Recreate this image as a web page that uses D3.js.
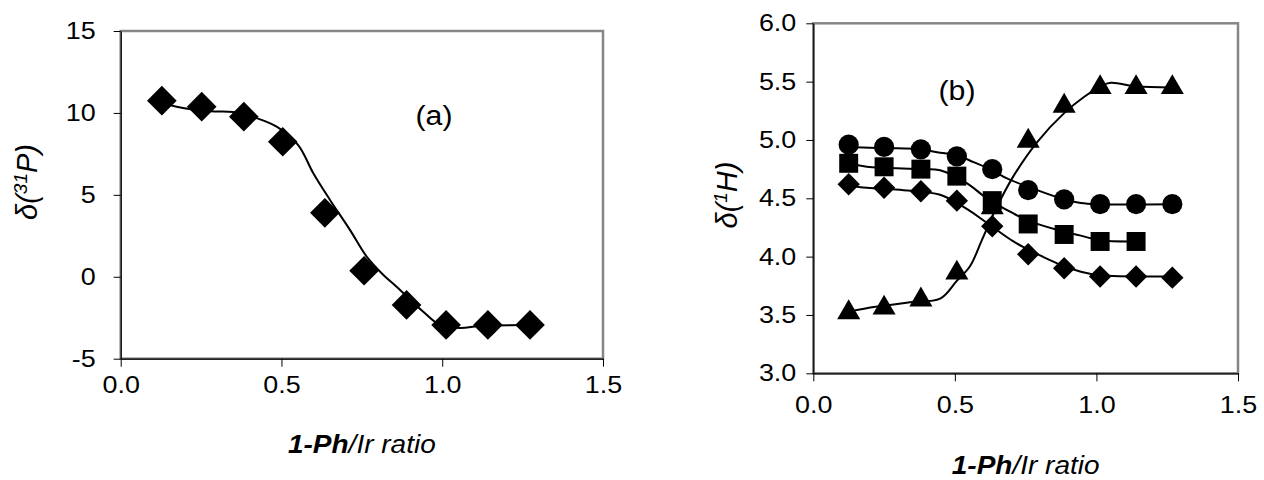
<!DOCTYPE html>
<html lang="en">
<head>
<meta charset="utf-8" />
<title>Chemical shift vs 1-Ph/Ir ratio</title>
<script src="https://d3js.org/d3.v7.min.js"></script>
<style>
  body{margin:0;background:#fff;}
  svg{display:block;font-family:"Liberation Sans",Arial,sans-serif;}
  .tick line{stroke:#000;stroke-width:1;}
  .tick text{fill:#000;}
</style>
</head>
<body>
<svg id="chart" width="1264" height="480"></svg>
<script>
// ---------- panel (a): 31P shift ----------
const X_A = [0.128, 0.252, 0.383, 0.504, 0.635, 0.757, 0.889, 1.012, 1.142, 1.273];
const P31 = [10.75, 10.38, 9.77, 8.24, 3.9, 0.37, -1.72, -2.94, -2.94, -2.94];
// fitted curve
const FIT_A_X = [0.128, 0.174, 0.28, 0.35, 0.42, 0.485, 0.552, 0.599, 0.651, 0.713, 0.765, 0.817, 0.858, 0.941, 0.993, 1.055, 1.12, 1.273];
const FIT_A_Y = [10.62, 10.38, 10.1, 10.05, 9.7, 9.16, 8.04, 6.32, 4.69, 2.86, 1.23, 0.11, -0.61, -2.13, -2.94, -3.12, -3.0, -2.95];
const Y_TICKS_A = [-5, 0, 5, 10, 15];

// ---------- panel (b): 1H shifts ----------
const X_B = [0.125, 0.25, 0.38, 0.507, 0.632, 0.759, 0.886, 1.013, 1.14, 1.268];
const CIRCLES  = [4.96, 4.94, 4.92, 4.86, 4.75, 4.57, 4.49, 4.45, 4.45, 4.45];
const SQUARES  = [4.80, 4.77, 4.75, 4.69, 4.48, 4.28, 4.19, 4.13, 4.13];
const DIAMONDS = [4.62, 4.59, 4.56, 4.48, 4.26, 4.02, 3.90, 3.83, 3.83, 3.82];
const TRIANGLES = [3.52, 3.56, 3.63, 3.86, 4.42, 4.99, 5.29, 5.45, 5.45, 5.45];

const FIT_CIRC_X = [0.125, 0.25, 0.38, 0.448, 0.507, 0.566, 0.632, 0.684, 0.768, 0.874, 0.945, 1.013, 1.268];
const FIT_CIRC_Y = [4.94, 4.93, 4.92, 4.89, 4.87, 4.81, 4.74, 4.67, 4.59, 4.50, 4.46, 4.45, 4.45];
const FIT_SQ_X = [0.125, 0.189, 0.38, 0.448, 0.542, 0.613, 0.707, 0.768, 0.861, 0.945, 1.013, 1.14];
const FIT_SQ_Y = [4.80, 4.77, 4.75, 4.74, 4.63, 4.50, 4.37, 4.30, 4.23, 4.18, 4.14, 4.13];
const FIT_DIA_X = [0.125, 0.189, 0.319, 0.448, 0.542, 0.613, 0.707, 0.76, 0.81, 0.874, 0.945, 1.013, 1.268];
const FIT_DIA_Y = [4.61, 4.59, 4.57, 4.53, 4.41, 4.29, 4.13, 4.06, 4.00, 3.93, 3.87, 3.84, 3.83];
const FIT_TRI_X = [0.125, 0.22, 0.342, 0.448, 0.506, 0.554, 0.595, 0.643, 0.707, 0.79, 0.886, 0.957, 1.015, 1.05, 1.14, 1.268];
const FIT_TRI_Y = [3.53, 3.57, 3.61, 3.64, 3.79, 3.92, 4.14, 4.40, 4.69, 4.98, 5.23, 5.37, 5.46, 5.49, 5.46, 5.45];
const Y_TICKS_B = [3.0, 3.5, 4.0, 4.5, 5.0, 5.5, 6.0];

const X_TICKS = [0, 0.5, 1.0, 1.5];
const STRETCH = 1.12;   // text in the source is drawn a little wide

const svg = d3.select('#chart');

// widen text horizontally like the original
function stretch(sel){
  sel.each(function(){
    const w = this.getComputedTextLength();
    d3.select(this).attr('textLength', w * STRETCH).attr('lengthAdjust', 'spacingAndGlyphs');
  });
}

function panel(o){
  const x = d3.scaleLinear().domain([0, 1.5]).range([o.left, o.right]);
  const y = d3.scaleLinear().domain(o.yDomain).range([o.bottom, o.top]);
  const g = svg.append('g');

  // plot area frame
  g.append('rect')
    .attr('x', o.left).attr('y', o.top)
    .attr('width', o.right - o.left).attr('height', o.bottom - o.top)
    .attr('fill', 'none').attr('stroke', '#868686').attr('stroke-width', 2.5);

  const xa = g.append('g').attr('transform', `translate(0,${o.bottom})`)
    .call(d3.axisBottom(x).tickValues(X_TICKS).tickFormat(d3.format('.1f'))
      .tickSizeInner(8).tickSizeOuter(0).tickPadding(o.xPad));
  const ya = g.append('g').attr('transform', `translate(${o.left},0)`)
    .call(d3.axisLeft(y).tickValues(o.yTicks).tickFormat(o.yFormat)
      .tickSizeInner(7).tickSizeOuter(0).tickPadding(o.yPad));
  [xa, ya].forEach(a => {
    a.select('.domain').attr('stroke', '#000').attr('stroke-width', 1.2);
    a.selectAll('text').attr('font-size', o.tickFont).attr('font-family', '"Liberation Sans",Arial,sans-serif');
  });
  xa.selectAll('text').call(stretch);
  ya.selectAll('text').call(stretch);

  // x title
  const xt = g.append('text')
    .attr('x', (o.left + o.right) / 2).attr('y', o.xTitleY)
    .attr('text-anchor', 'middle').attr('font-size', 25).attr('font-style', 'italic');
  xt.append('tspan').attr('font-weight', 'bold').text('1-Ph');
  xt.append('tspan').text('/Ir ratio');
  xt.call(stretch);

  // y title
  const yt = g.append('text')
    .attr('transform', `translate(${o.yTitleX},${o.yTitleY}) rotate(-90)`)
    .attr('text-anchor', 'middle').attr('font-size', 29).attr('font-style', 'italic');
  yt.append('tspan').text('δ(');
  yt.append('tspan').attr('font-size', 19).attr('dy', -10).text(o.sup);
  yt.append('tspan').attr('dy', 10).text(o.nucleus + ')');

  // panel letter
  g.append('text').attr('x', o.tagX).attr('y', o.tagY)
    .attr('text-anchor', 'middle').attr('font-size', 27).text(o.tag).call(stretch);

  return {g, x, y};
}

const line = (x, y) => d3.line().x(d => x(d[0])).y(d => y(d[1])).curve(d3.curveCatmullRom.alpha(0.5));

function series(p, xs, ys, fx, fy, shape, area, rot){
  p.g.append('path').datum(d3.zip(fx, fy))
    .attr('fill', 'none').attr('stroke', '#000').attr('stroke-width', 2)
    .attr('d', line(p.x, p.y));
  p.g.append('g').selectAll('path').data(d3.zip(xs, ys)).join('path')
    .attr('d', d3.symbol(shape, area))
    .attr('transform', d => `translate(${p.x(d[0])},${p.y(d[1])}) rotate(${rot})`)
    .attr('fill', '#000');
}

// ---------- (a) ----------
const A = panel({
  left: 120.7, right: 603, top: 31, bottom: 358.7,
  yDomain: [-5, 15], yTicks: Y_TICKS_A, yFormat: d => String(d),
  tickFont: 24, xPad: 9, yPad: 18, xTitleY: 453, yTitleX: 37, yTitleY: 182,
  sup: '31', nucleus: 'P', tag: '(a)', tagX: 434, tagY: 125
});
series(A, X_A, P31, FIT_A_X, FIT_A_Y, d3.symbolSquare, 440, 45);

// ---------- (b) ----------
const B = panel({
  left: 813.3, right: 1238, top: 23.3, bottom: 373.3,
  yDomain: [3, 6], yTicks: Y_TICKS_B, yFormat: d3.format('.1f'),
  tickFont: 24, xPad: 15, yPad: 10, xTitleY: 474, yTitleX: 737, yTitleY: 195,
  sup: '1', nucleus: 'H', tag: '(b)', tagX: 957, tagY: 100
});
series(B, X_B, CIRCLES, FIT_CIRC_X, FIT_CIRC_Y, d3.symbolCircle, 320, 0);
series(B, X_B.slice(0, SQUARES.length), SQUARES, FIT_SQ_X, FIT_SQ_Y, d3.symbolSquare, 360, 0);
series(B, X_B, DIAMONDS, FIT_DIA_X, FIT_DIA_Y, d3.symbolSquare, 250, 45);
series(B, X_B, TRIANGLES, FIT_TRI_X, FIT_TRI_Y, d3.symbolTriangle, 230, 0);
</script>
</body>
</html>
